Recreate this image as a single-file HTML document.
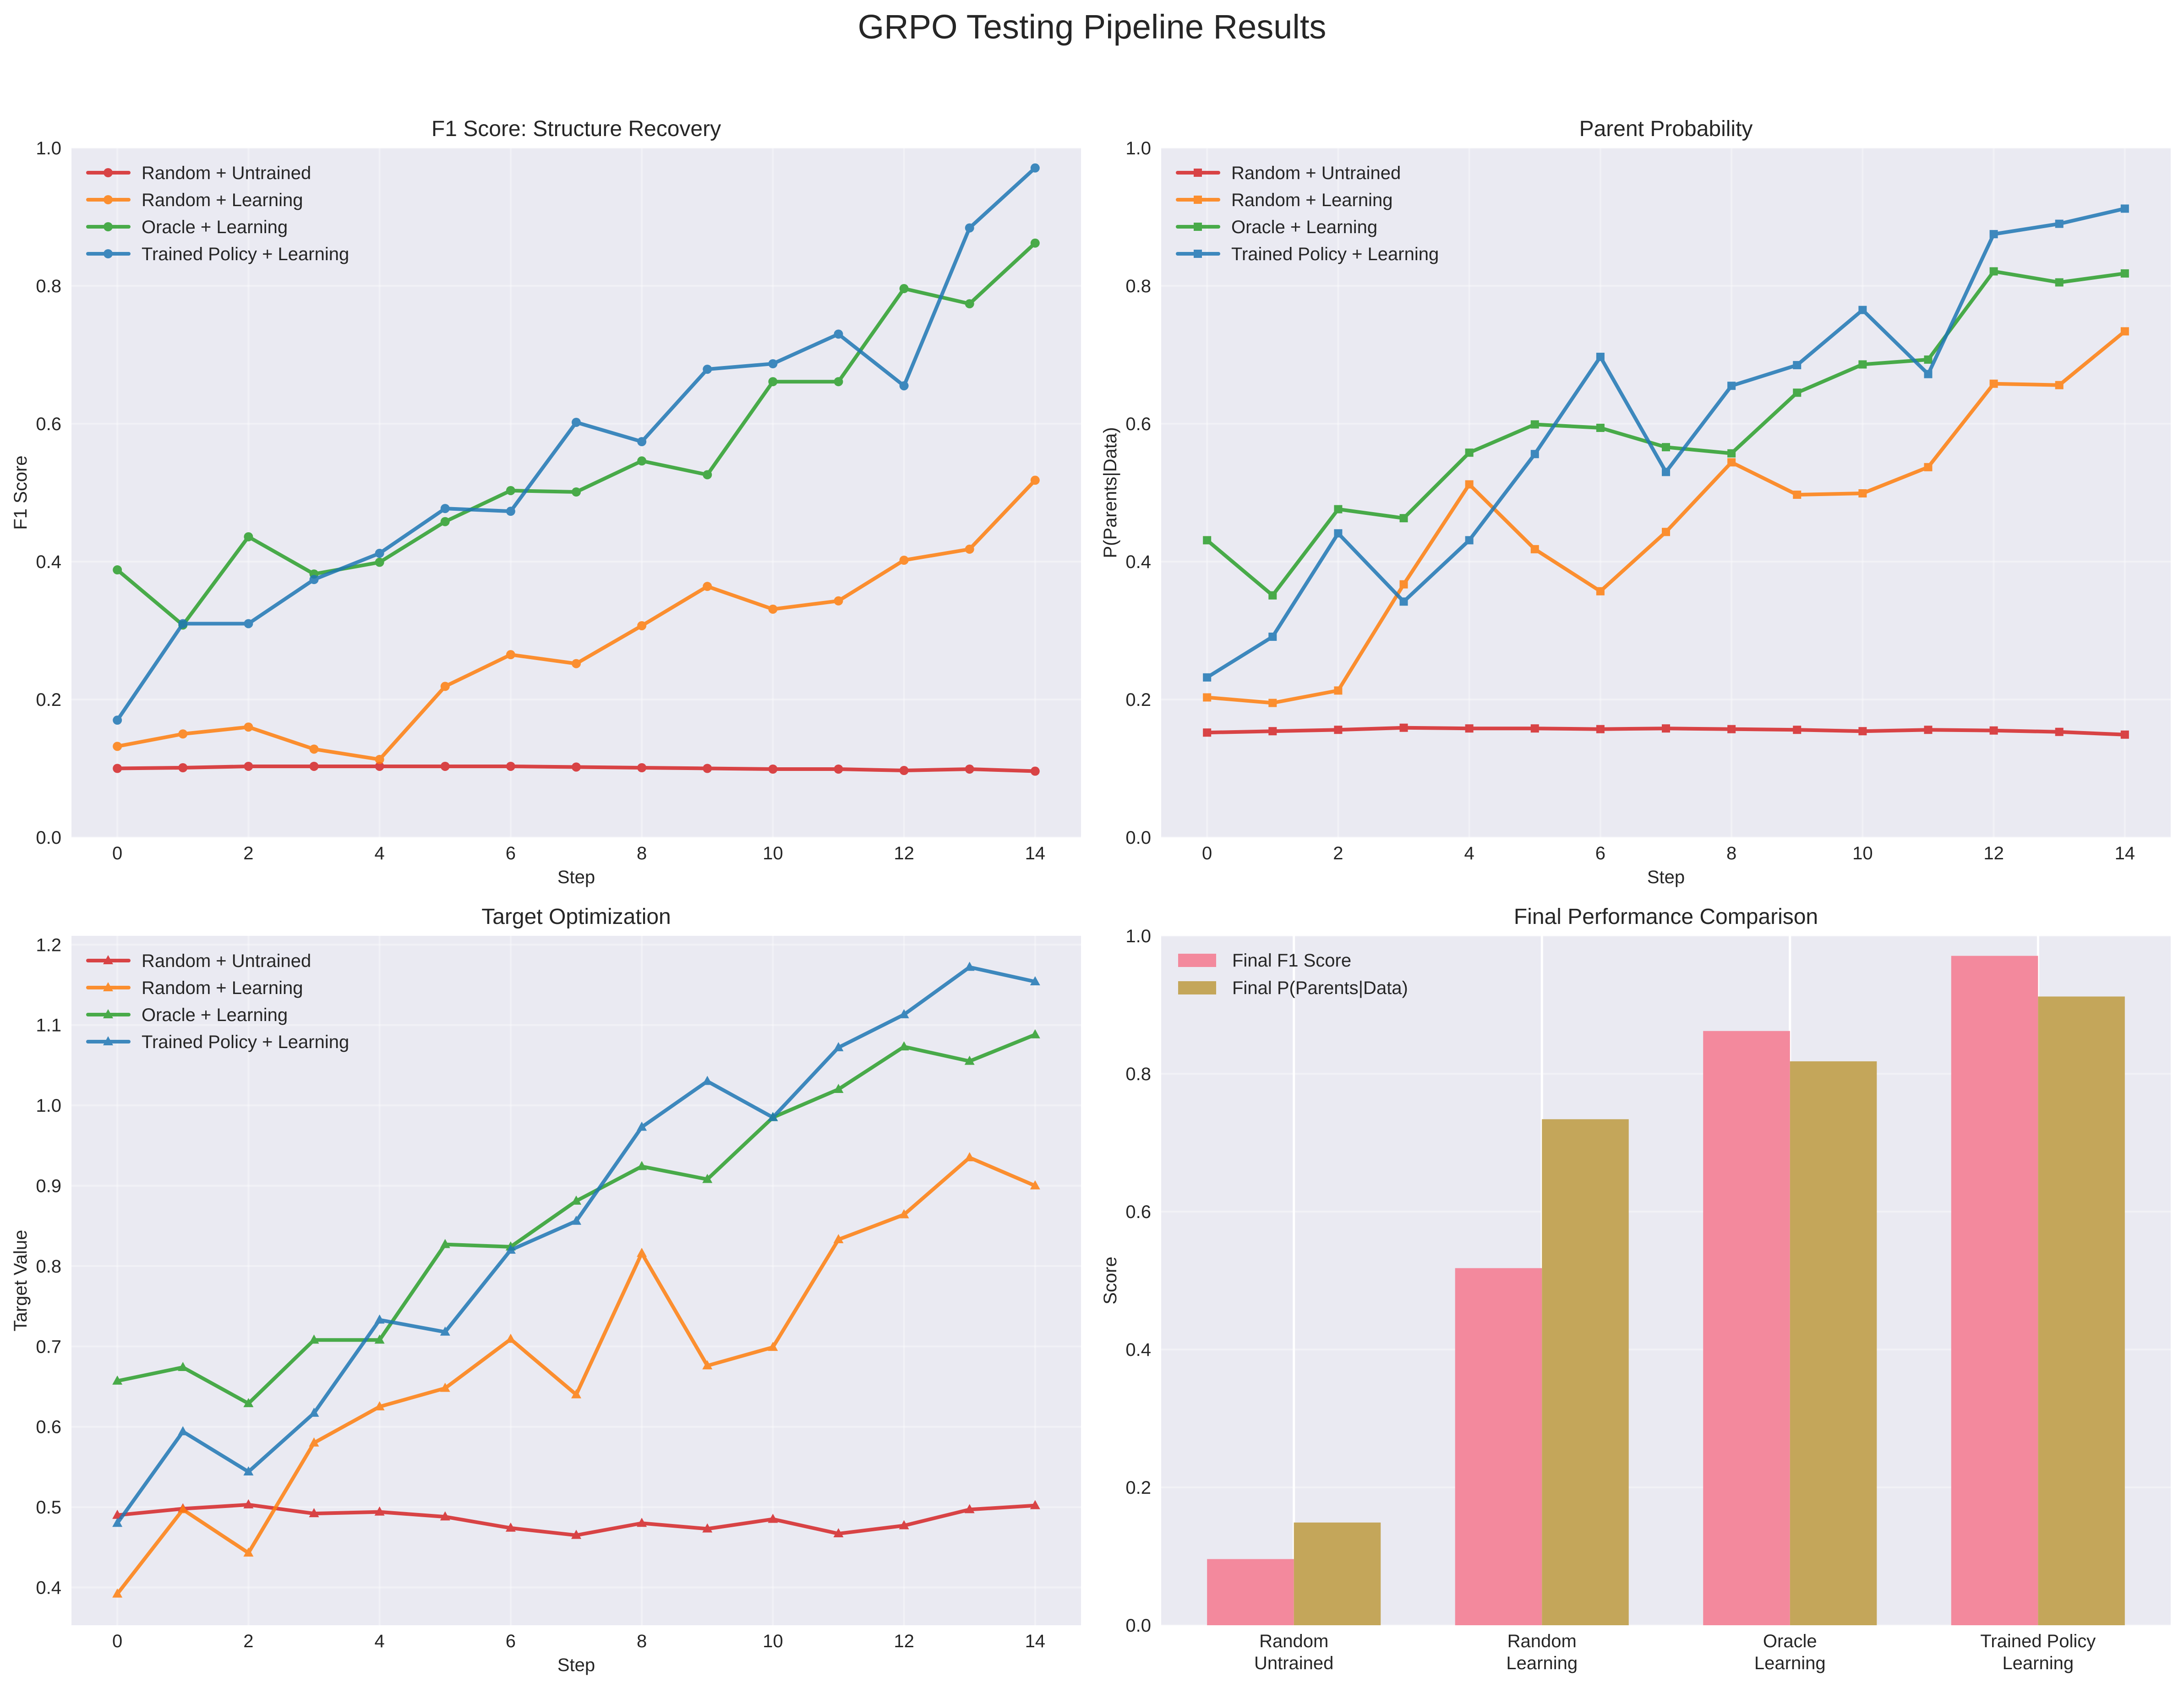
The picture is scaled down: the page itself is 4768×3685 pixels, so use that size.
<!DOCTYPE html>
<html><head><meta charset="utf-8">
<style>
html,body{margin:0;padding:0;background:#fff;}
svg{display:block;font-family:"Liberation Sans",Arial,sans-serif;}
</style></head>
<body>
<svg id="fig" xmlns="http://www.w3.org/2000/svg" width="4768" height="3685" viewBox="0 0 4768 3685">
<rect x="0" y="0" width="4768" height="3685" fill="#ffffff"/>
<text x="2384" y="84" font-size="74" text-anchor="middle" fill="#262626">GRPO Testing Pipeline Results</text>
</svg>
<script>
const steps = [0,1,2,3,4,5,6,7,8,9,10,11,12,13,14];
const seriesNames = ["Random + Untrained","Random + Learning","Oracle + Learning","Trained Policy + Learning"];
const f1RandomUntrained = [0.100,0.101,0.103,0.103,0.103,0.103,0.103,0.102,0.101,0.100,0.099,0.099,0.097,0.099,0.096];
const f1RandomLearning = [0.132,0.150,0.160,0.128,0.113,0.219,0.265,0.252,0.307,0.364,0.331,0.343,0.402,0.418,0.518];
const f1OracleLearning = [0.388,0.308,0.436,0.382,0.399,0.458,0.503,0.501,0.546,0.526,0.661,0.661,0.796,0.774,0.862];
const f1TrainedLearning = [0.170,0.310,0.310,0.374,0.412,0.477,0.473,0.602,0.574,0.679,0.687,0.730,0.655,0.884,0.971];
const ppRandomUntrained = [0.152,0.154,0.156,0.159,0.158,0.158,0.157,0.158,0.157,0.156,0.154,0.156,0.155,0.153,0.149];
const ppRandomLearning = [0.203,0.195,0.213,0.367,0.512,0.418,0.357,0.443,0.544,0.497,0.499,0.537,0.658,0.656,0.734];
const ppOracleLearning = [0.431,0.351,0.476,0.463,0.558,0.599,0.594,0.566,0.557,0.645,0.686,0.693,0.821,0.805,0.818];
const ppTrainedLearning = [0.232,0.291,0.441,0.342,0.431,0.556,0.697,0.530,0.655,0.685,0.765,0.672,0.875,0.890,0.912];
const tgRandomUntrained = [0.490,0.498,0.503,0.492,0.494,0.488,0.474,0.465,0.480,0.473,0.485,0.467,0.477,0.497,0.502];
const tgRandomLearning = [0.392,0.497,0.443,0.580,0.625,0.648,0.709,0.640,0.816,0.676,0.699,0.833,0.864,0.935,0.900];
const tgOracleLearning = [0.657,0.674,0.629,0.708,0.708,0.827,0.824,0.881,0.924,0.908,0.985,1.020,1.073,1.055,1.088];
const tgTrainedLearning = [0.480,0.594,0.544,0.617,0.733,0.718,0.820,0.856,0.973,1.030,0.985,1.072,1.113,1.172,1.154];
const xTicks = [0,2,4,6,8,10,12,14];
const unitTicks = [0.0,0.2,0.4,0.6,0.8,1.0];
const targetTicks = [0.4,0.5,0.6,0.7,0.8,0.9,1.0,1.1,1.2];
const barCategories = [["Random","Untrained"],["Random","Learning"],["Oracle","Learning"],["Trained Policy","Learning"]];
const barF1 = [0.096,0.518,0.862,0.971];
const barPP = [0.149,0.734,0.818,0.912];

const NS="http://www.w3.org/2000/svg";
const svg=document.getElementById('fig');
const colors=["#d62728","#ff7f0e","#2ca02c","#1f77b4"];
function mk(tag,attrs,parent){const e=document.createElementNS(NS,tag);for(const k in attrs)e.setAttribute(k,attrs[k]);(parent||svg).appendChild(e);return e;}
function txt(s,attrs,parent){const e=mk('text',attrs,parent);e.textContent=s;return e;}

function panel(o){
  const g=mk('g',{});
  
  
  const L=o.L,T=o.T,W=o.W,H=o.H;
  const sx=v=>L+(v-o.xmin)/(o.xmax-o.xmin)*W;
  const sy=v=>T+H-(v-o.ymin)/(o.ymax-o.ymin)*H;
  const bg=mk('rect',{x:L,y:T,width:W,height:H,fill:"#eaeaf2"},g);
  
  
  o.xTicks.forEach(v=>{
    const ln=mk('line',{x1:sx(v),x2:sx(v),y1:T,y2:T+H,stroke:"#fff","stroke-width":o.vgw||4,opacity:o.vgo||0.35},g);
    
    
  });
  o.yTicks.forEach(v=>{
    const ln=mk('line',{x1:L,x2:L+W,y1:sy(v),y2:sy(v),stroke:"#fff","stroke-width":4,opacity:0.35},g);
    
    
    const t=txt(v.toFixed(1),{x:L-22,y:sy(v)+14,"font-size":40,"text-anchor":"end",fill:"#262626"},g);
    
    
  });
  if(o.xLabels){
    o.xTicks.forEach((v,i)=>{
      const lab=o.xLabels[i];
      const lines=Array.isArray(lab)?lab:[String(lab)];
      lines.forEach((s,j)=>{
        const t=txt(s,{x:sx(v),y:T+H+48+j*48,"font-size":40,"text-anchor":"middle",fill:"#262626"},g);
        
        
      });
    });
  }
  const ti=txt(o.title,{x:L+W/2,y:T-26,"font-size":48,"text-anchor":"middle",fill:"#262626"},g);
  
  
  if(o.xlab){const t=txt(o.xlab,{x:L+W/2,y:T+H+100,"font-size":40,"text-anchor":"middle",fill:"#262626"},g);
    
    }
  const yl=txt(o.ylab,{x:0,y:0,"font-size":40,"text-anchor":"middle",fill:"#262626",transform:`translate(${L-98},${T+H/2}) rotate(-90)`},g);
  
  
  return {g,sx,sy,L,T,W,H};
}

function marker(shape,x,y,c,parent){
  let e;
  if(shape==='circle') e=mk('circle',{cx:x,cy:y,r:10,fill:c},parent);
  else if(shape==='square') e=mk('rect',{x:x-9,y:y-9,width:18,height:18,fill:c},parent);
  else e=mk('polygon',{points:`${x},${y-12} ${x-11},${y+8} ${x+11},${y+8}`,fill:c},parent);
  return e;
}

function linePanel(o,seriesArr,shape){
  const p=panel(o);
  seriesArr.forEach((vals,si)=>{
    const sg=mk('g',{opacity:0.85},p.g);
    
    
    const pts=vals.map((v,i)=>p.sx(steps[i])+','+p.sy(v)).join(' ');
    const pl=mk('polyline',{points:pts,fill:'none',stroke:colors[si],'stroke-width':8,'stroke-linejoin':'round','stroke-linecap':'round'},sg);
    
    
    vals.forEach((v,i)=>{
      const m=marker(shape,p.sx(steps[i]),p.sy(v),colors[si],sg);
      
      
    });
  });
  const lg=mk('g',{},p.g);
  
  
  seriesNames.forEach((n,i)=>{
    const y=p.T+54+i*59;
    const eg=mk('g',{opacity:0.85},lg);
    
    
    mk('line',{x1:p.L+36,x2:p.L+125,y1:y,y2:y,stroke:colors[i],'stroke-width':8,'stroke-linecap':'round'},eg);
    marker(shape,p.L+80,y,colors[i],eg);
    const t=txt(n,{x:p.L+153,y:y+14,'font-size':40,fill:'#262626'},lg);
    
    
  });
}

const LX=156, RX=2535, PW=2204, TY=323, BY=2043, PH=1505;
linePanel({name:'f1-panel',L:LX,T:TY,W:PW,H:PH,xmin:-0.7,xmax:14.7,ymin:0,ymax:1,xTicks:xTicks,xLabels:xTicks,yTicks:unitTicks,title:'F1 Score: Structure Recovery',xlab:'Step',ylab:'F1 Score'},
  [f1RandomUntrained,f1RandomLearning,f1OracleLearning,f1TrainedLearning],'circle');
linePanel({name:'parent-probability-panel',L:RX,T:TY,W:PW,H:PH,xmin:-0.7,xmax:14.7,ymin:0,ymax:1,xTicks:xTicks,xLabels:xTicks,yTicks:unitTicks,title:'Parent Probability',xlab:'Step',ylab:'P(Parents|Data)'},
  [ppRandomUntrained,ppRandomLearning,ppOracleLearning,ppTrainedLearning],'square');
const tAll=[].concat(tgRandomUntrained,tgRandomLearning,tgOracleLearning,tgTrainedLearning);
const tmin=Math.min(...tAll), tmax=Math.max(...tAll), tpad=(tmax-tmin)*0.05;
linePanel({name:'target-panel',L:LX,T:BY,W:PW,H:PH,xmin:-0.7,xmax:14.7,ymin:tmin-tpad,ymax:tmax+tpad,xTicks:xTicks,xLabels:xTicks,yTicks:targetTicks,title:'Target Optimization',xlab:'Step',ylab:'Target Value'},
  [tgRandomUntrained,tgRandomLearning,tgOracleLearning,tgTrainedLearning],'triangle');

const bw=0.35;
const cats=barCategories.map((c,i)=>i);
const bp=panel({name:'final-performance-panel',L:RX,T:BY,W:PW,H:PH,xmin:-0.5-0.035,xmax:3.5+0.035,ymin:0,ymax:1,xTicks:cats,xLabels:barCategories,yTicks:unitTicks,title:'Final Performance Comparison',ylab:'Score',vgw:5,vgo:1});
const barCols=["#f3899d","#c4a65a"];
[barF1,barPP].forEach((vals,si)=>{
  vals.forEach((v,i)=>{
    const x0=bp.sx(cats[i]+(si===0?-bw:0)), x1=bp.sx(cats[i]+(si===0?0:bw));
    const r=mk('rect',{x:x0,y:bp.sy(v),width:x1-x0,height:bp.sy(0)-bp.sy(v),fill:barCols[si]},bp.g);
    
    
  });
});
const blg=mk('g',{},bp.g);


["Final F1 Score","Final P(Parents|Data)"].forEach((n,i)=>{
  const y=bp.T+39+i*60;
  const r=mk('rect',{x:bp.L+37,y:y,width:83,height:29,fill:barCols[i]},blg);
  
  
  const t=txt(n,{x:bp.L+155,y:y+28,'font-size':40,fill:'#262626'},blg);
  
  
});
</script>
</body></html>
